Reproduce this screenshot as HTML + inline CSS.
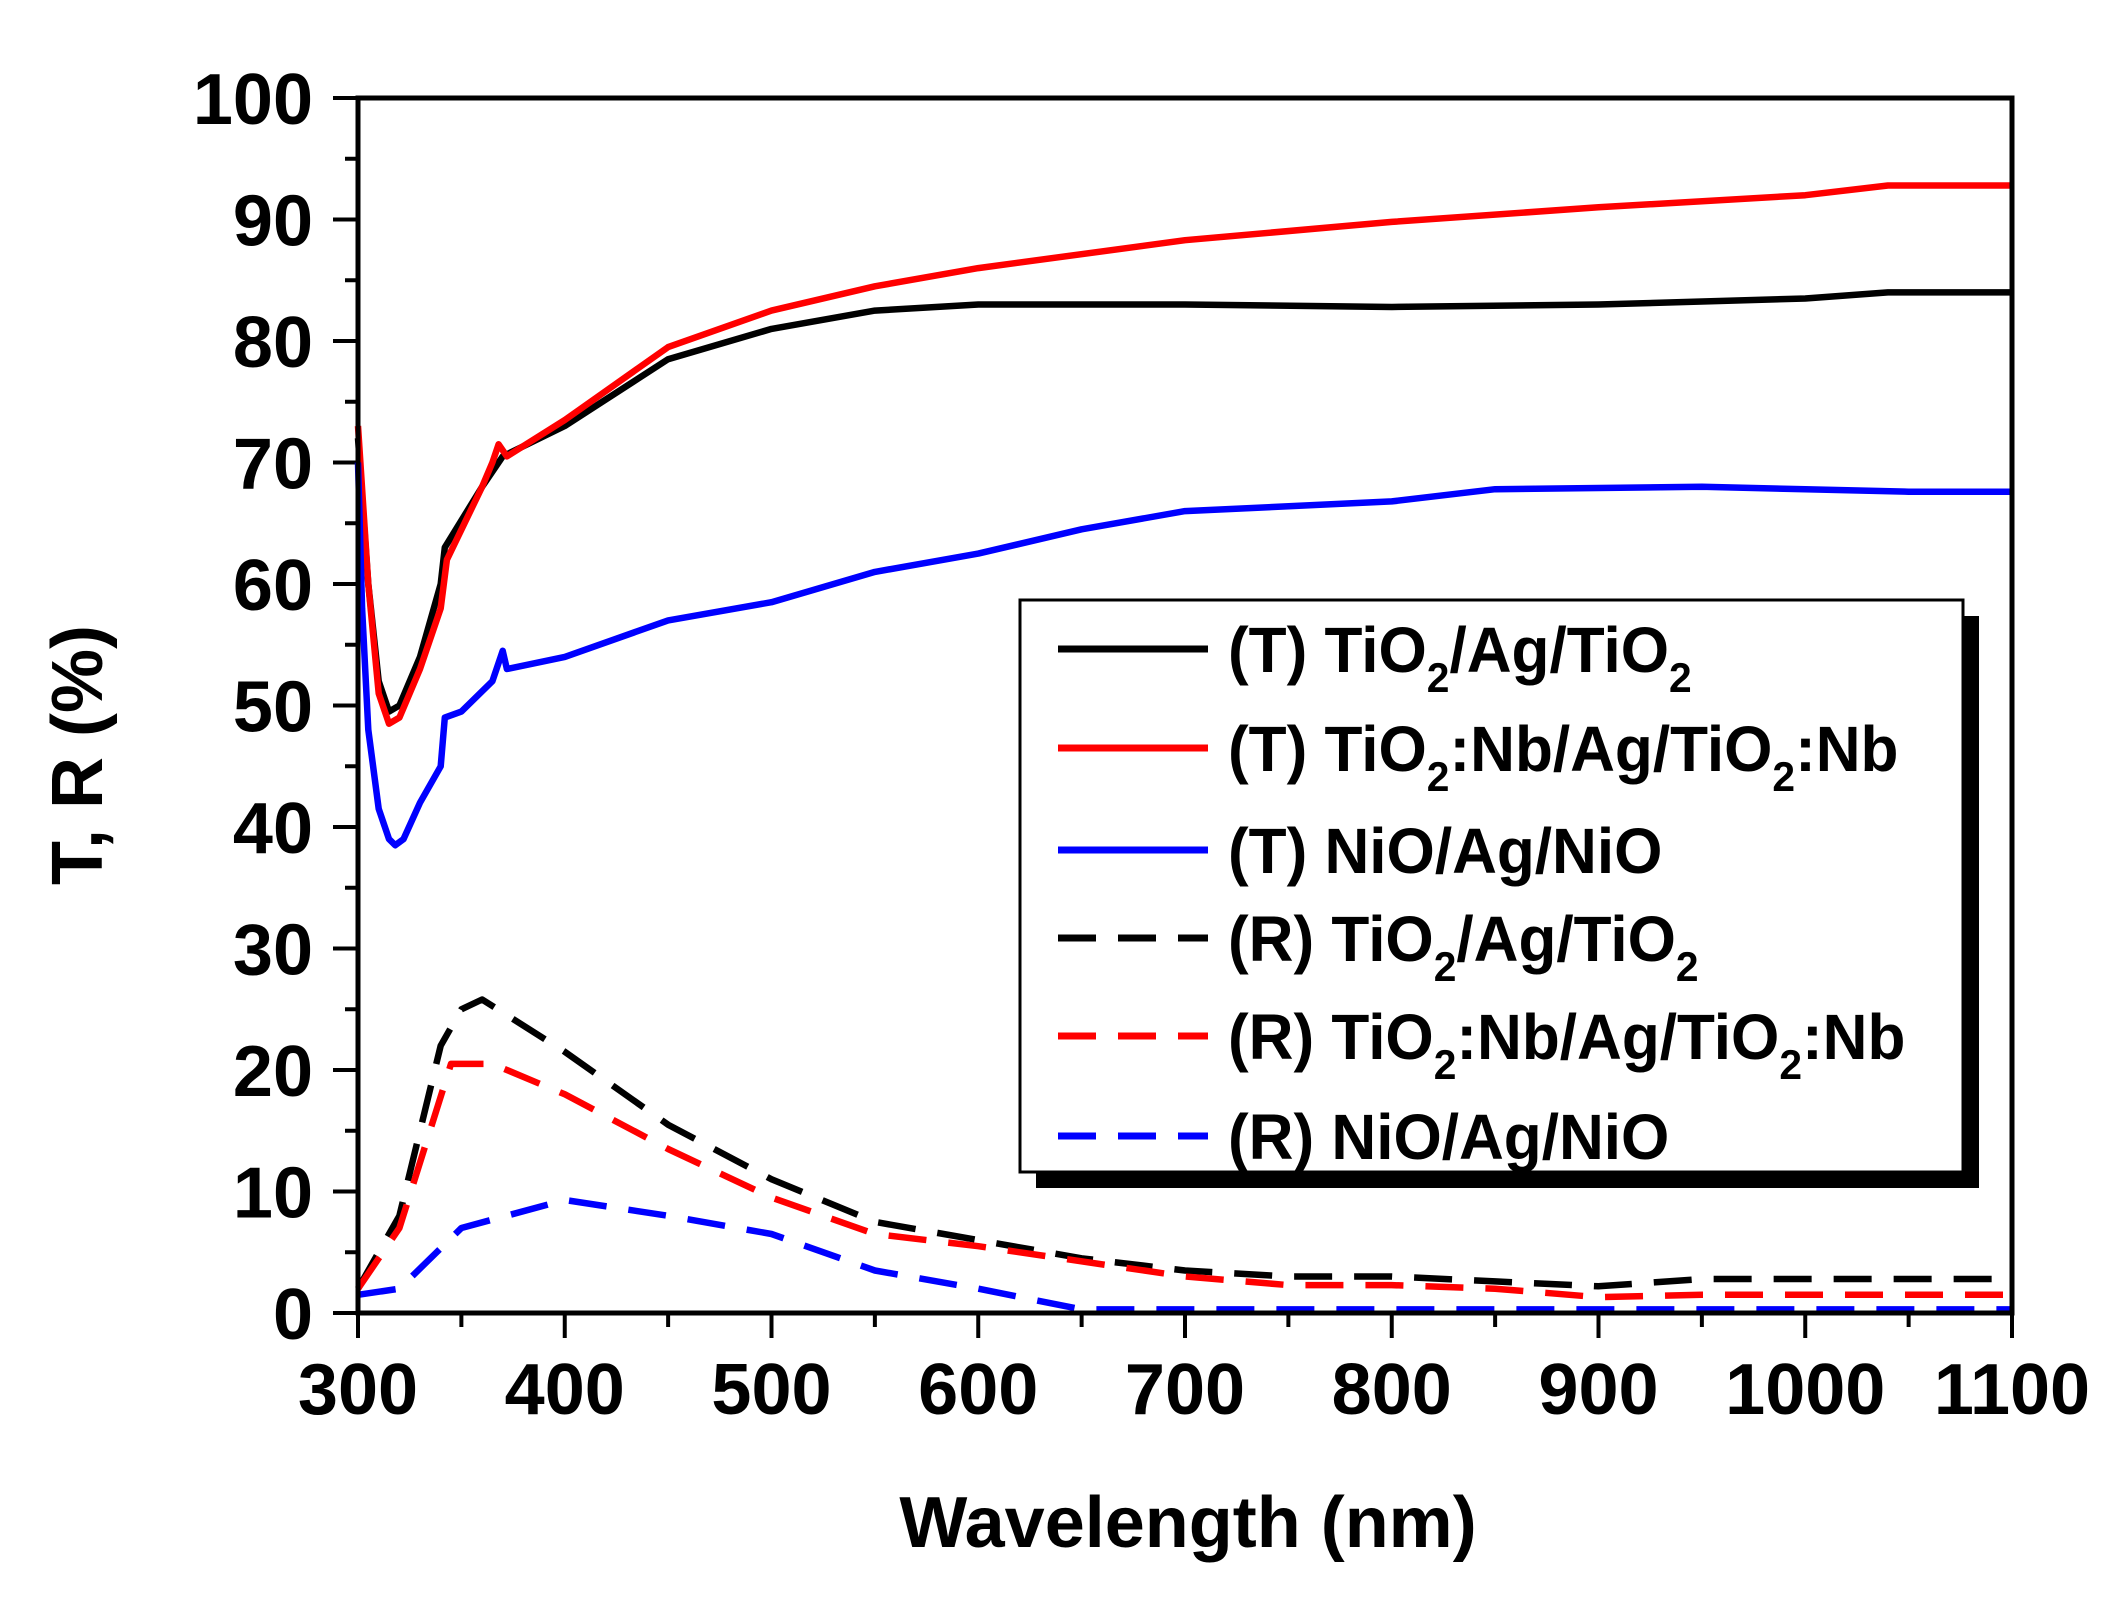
<!DOCTYPE html>
<html><head><meta charset="utf-8"><style>
html,body{margin:0;padding:0;background:#fff;}
svg{display:block;}
text{font-family:"Liberation Sans",Arial,sans-serif;font-weight:bold;fill:#000;}
</style></head><body>
<svg width="2128" height="1599" viewBox="0 0 2128 1599" xmlns="http://www.w3.org/2000/svg">
<g id="ticks" stroke="#000" stroke-width="4">
</g>
<g id="curves" fill="none" stroke-width="6.5" stroke-linejoin="round"></g>
<rect x="1036" y="616" width="943" height="572" fill="#000"/>
<rect x="1020" y="600" width="943" height="572" fill="#fff" stroke="#000" stroke-width="3"/>
<g stroke-width="7">
<line x1="1058" y1="649" x2="1208" y2="649" stroke="#000"/>
<line x1="1058" y1="748" x2="1208" y2="748" stroke="#f00"/>
<line x1="1058" y1="850" x2="1208" y2="850" stroke="#00f"/>
<line x1="1058" y1="938" x2="1208" y2="938" stroke="#000" stroke-dasharray="38,22"/>
<line x1="1058" y1="1036" x2="1208" y2="1036" stroke="#f00" stroke-dasharray="38,22"/>
<line x1="1058" y1="1136" x2="1208" y2="1136" stroke="#00f" stroke-dasharray="38,22"/>
</g>
<g font-size="64" transform="translate(1228,0) scale(0.97,1) translate(-1228,0)">
<text x="1228" y="672">(T) TiO<tspan font-size="42" dy="20">2</tspan><tspan dy="-20">/Ag/TiO</tspan><tspan font-size="42" dy="20">2</tspan></text>
<text x="1228" y="771">(T) TiO<tspan font-size="42" dy="20">2</tspan><tspan dy="-20">:Nb/Ag/TiO</tspan><tspan font-size="42" dy="20">2</tspan><tspan dy="-20">:Nb</tspan></text>
<text x="1228" y="873">(T) NiO/Ag/NiO</text>
<text x="1228" y="961">(R) TiO<tspan font-size="42" dy="20">2</tspan><tspan dy="-20">/Ag/TiO</tspan><tspan font-size="42" dy="20">2</tspan></text>
<text x="1228" y="1059">(R) TiO<tspan font-size="42" dy="20">2</tspan><tspan dy="-20">:Nb/Ag/TiO</tspan><tspan font-size="42" dy="20">2</tspan><tspan dy="-20">:Nb</tspan></text>
<text x="1228" y="1159">(R) NiO/Ag/NiO</text>
</g>
<g id="labels" font-size="72"></g>
<text x="1188" y="1547" font-size="72" text-anchor="middle">Wavelength (nm)</text>
<text transform="translate(102,755) rotate(-90)" font-size="72" text-anchor="middle">T, R (%)</text>
<rect x="358" y="98" width="1654" height="1215" fill="none" stroke="#000" stroke-width="5"/>
<script>
var X=function(w){return 358+(w-300)*2.0675},Y=function(v){return 1313-v*12.15};
var t=document.getElementById('ticks'),L=document.getElementById('labels'),ns='http://www.w3.org/2000/svg';
function el(p,n,a,txt){var e=document.createElementNS(ns,n);for(var k in a)e.setAttribute(k,a[k]);if(txt)e.textContent=txt;p.appendChild(e);}
for(var v=0;v<=100;v+=5){var maj=v%10==0;el(t,'line',{x1:358-(maj?25:13),x2:358,y1:Y(v),y2:Y(v)});if(maj)el(L,'text',{x:313,y:Y(v)+26,'text-anchor':'end'},''+v);}
for(var w=300;w<=1100;w+=50){var maj=w%100==0;el(t,'line',{x1:X(w),x2:X(w),y1:1313,y2:1313+(maj?25:14)});if(maj)el(L,'text',{x:X(w),y:1414,'text-anchor':'middle'},''+w);}
var S=[
['#000',0,[[300,72],[305,60],[310,52],[315,49.5],[320,50],[330,54],[340,60],[342,63],[360,68],[370,70.5],[400,73],[450,78.5],[500,81],[550,82.5],[600,83],[700,83],[800,82.8],[900,83],[1000,83.5],[1040,84],[1100,84]]],
['#f00',0,[[300,73],[305,60],[310,51],[315,48.5],[320,49],[330,53],[340,58],[343,62],[360,68],[365,70],[368,71.5],[372,70.5],[400,73.5],[450,79.5],[500,82.5],[550,84.5],[600,86],[700,88.3],[800,89.8],[900,91],[1000,92],[1040,92.8],[1100,92.8]]],
['#00f',0,[[300,70],[302,58],[305,48],[310,41.5],[315,39],[318,38.5],[322,39],[330,42],[340,45],[342,49],[350,49.5],[365,52],[370,54.5],[372,53],[400,54],[450,57],[500,58.5],[550,61],[600,62.5],[650,64.5],[700,66],[800,66.8],[850,67.8],[950,68],[1000,67.8],[1050,67.6],[1100,67.6]]],
['#000',1,[[300,2],[320,8],[340,22],[350,25],[360,25.8],[400,21.5],[450,15.5],[500,11],[550,7.5],[600,6],[650,4.5],[700,3.5],[750,3],[800,3],[850,2.6],[900,2.2],[950,2.8],[1000,2.8],[1100,2.8]]],
['#f00',1,[[300,2],[320,7],[345,20.5],[365,20.5],[400,18],[450,13.5],[500,9.5],[550,6.5],[600,5.5],[700,3],[750,2.3],[800,2.3],[850,2],[900,1.3],[950,1.5],[1100,1.5]]],
['#00f',1,[[300,1.5],[320,2],[350,7],[400,9.3],[450,8],[500,6.5],[550,3.5],[600,2],[650,0.3],[1100,0.3]]]];
var C=document.getElementById('curves');
S.forEach(function(s){var d=s[2].map(function(p,i){return (i?'L':'M')+X(p[0]).toFixed(1)+' '+Y(p[1]).toFixed(1)}).join('');var a={d:d,stroke:s[0]};if(s[1])a['stroke-dasharray']='38,22';el(C,'path',a);});
</script>
</svg>
</body></html>
